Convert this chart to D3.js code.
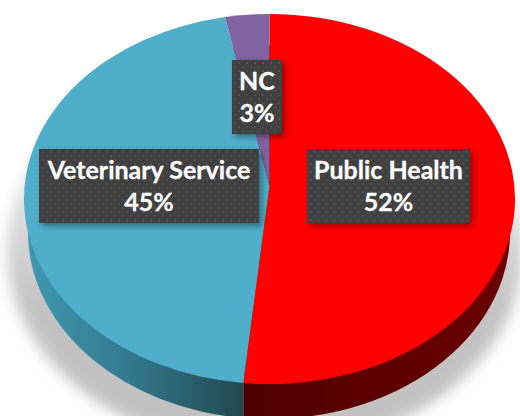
<!DOCTYPE html>
<html>
<head>
<meta charset="utf-8">
<script src="https://d3js.org/d3.v7.min.js"></script>
<style>
  html, body { margin: 0; padding: 0; background: #fff; }
  svg { display: block; }
</style>
</head>
<body>
<div id="chart"></div>
<script>
// Data
var categories = ["Public Health", "NC", "Veterinary Service"];
var sliceValues = [51.7, 45.4, 2.9]; // clockwise from the top: red, blue, purple
var labelValues = [52, 3, 45];
var topColors = ["#ff0000", "#4fafca", "#8064a2"];

// Label box centres, same order as categories
var labelX = [388.5, 257, 149];
var labelY = [186, 97, 186];
var labelW = [163, 50, 220];

var svgWidth = 520;
var svgHeight = 416;

var svg = d3.select("#chart")
    .append("svg")
    .attr("width", svgWidth)
    .attr("height", svgHeight);

var defs = svg.append("defs");

// Step 1: scales for the top face and the (slightly narrower) bottom rim
var xTop = d3.scaleLinear().domain([-1, 1]).range([24, 515]);
var yTop = d3.scaleLinear().domain([-1, 1]).range([14, 384]);
var xBottom = d3.scaleLinear().domain([-1, 1]).range([28, 510]);
var yBottom = d3.scaleLinear().domain([-1, 1]).range([45, 419]);
var apex = { x: xTop(0), y: 186 };

var pie = d3.pie().sort(null);
var slices = pie(sliceValues);

function wedge(d, xs, ys, cx, cy) {
    var rx = (xs(1) - xs(-1)) / 2;
    var ry = (ys(1) - ys(-1)) / 2;
    var x0 = xs(Math.sin(d.startAngle)), y0 = ys(-Math.cos(d.startAngle));
    var x1 = xs(Math.sin(d.endAngle)), y1 = ys(-Math.cos(d.endAngle));
    var large = d.endAngle - d.startAngle > Math.PI ? 1 : 0;
    return `M${cx},${cy}L${x0},${y0}A${rx},${ry} 0 ${large} 1 ${x1},${y1}Z`;
}

// Step 2: soft shadow under the pie
var blur = defs.append("filter")
    .attr("id", "soft")
    .attr("x", "-20%").attr("y", "-20%")
    .attr("width", "140%").attr("height", "140%");
blur.append("feGaussianBlur").attr("stdDeviation", 7);

var shadowFade = defs.append("linearGradient")
    .attr("id", "shadowFade")
    .attr("gradientUnits", "userSpaceOnUse")
    .attr("x1", 0).attr("x2", 0).attr("y1", 130).attr("y2", 310);
shadowFade.append("stop").attr("offset", "0%").attr("stop-color", "#f2f2f2");
shadowFade.append("stop").attr("offset", "100%").attr("stop-color", "#c2c2c2");

svg.append("ellipse")
    .attr("cx", 265)
    .attr("cy", 250)
    .attr("rx", 258)
    .attr("ry", 200)
    .attr("fill", "url(#shadowFade)")
    .attr("filter", "url(#soft)");

// Step 3: side walls
var blueSide = defs.append("linearGradient")
    .attr("id", "blueSide")
    .attr("gradientUnits", "userSpaceOnUse")
    .attr("x1", 30).attr("x2", 243).attr("y1", 0).attr("y2", 0);
blueSide.append("stop").attr("offset", "0%").attr("stop-color", "#4097b0");
blueSide.append("stop").attr("offset", "45%").attr("stop-color", "#347a90");
blueSide.append("stop").attr("offset", "100%").attr("stop-color", "#22484f");

var redSide = defs.append("linearGradient")
    .attr("id", "redSide")
    .attr("gradientUnits", "userSpaceOnUse")
    .attr("x1", 243).attr("x2", 510).attr("y1", 0).attr("y2", 0);
redSide.append("stop").attr("offset", "0%").attr("stop-color", "#4c0000");
redSide.append("stop").attr("offset", "100%").attr("stop-color", "#6c0000");

var sideFills = ["url(#redSide)", "url(#blueSide)", "#5c4a78"];

svg.append("g")
    .selectAll("path")
    .data(slices)
    .enter()
    .append("path")
    .attr("d", d => wedge(d, xBottom, yBottom, xBottom(Math.sin(slices[0].endAngle)), 232))
    .attr("fill", (d, i) => sideFills[i]);

// Step 4: top face
svg.append("g")
    .selectAll("path")
    .data(slices)
    .enter()
    .append("path")
    .attr("d", d => wedge(d, xTop, yTop, apex.x, apex.y))
    .attr("fill", (d, i) => topColors[i]);

// Step 5: labels
var dots = defs.append("pattern")
    .attr("id", "dots")
    .attr("patternUnits", "userSpaceOnUse")
    .attr("width", 8)
    .attr("height", 8);
dots.append("rect").attr("width", 8).attr("height", 8).attr("fill", "#404040");
dots.append("circle").attr("cx", 2).attr("cy", 2).attr("r", 1).attr("fill", "#545454");
dots.append("circle").attr("cx", 6).attr("cy", 6).attr("r", 1).attr("fill", "#545454");

var boxShadow = defs.append("filter")
    .attr("id", "boxShadow")
    .attr("x", "-20%").attr("y", "-20%")
    .attr("width", "140%").attr("height", "140%");
boxShadow.append("feDropShadow")
    .attr("dx", 3).attr("dy", 3)
    .attr("stdDeviation", 3)
    .attr("flood-color", "#000")
    .attr("flood-opacity", 0.4);

var labels = svg.append("g")
    .selectAll("g")
    .data(categories)
    .enter()
    .append("g")
    .attr("transform", (d, i) => `translate(${labelX[i]}, ${labelY[i]})`);

labels.append("rect")
    .attr("x", (d, i) => -labelW[i] / 2)
    .attr("y", -37)
    .attr("width", (d, i) => labelW[i])
    .attr("height", 74)
    .attr("fill", "url(#dots)")
    .attr("filter", "url(#boxShadow)");

labels.append("text")
    .attr("y", -7)
    .attr("text-anchor", "middle")
    .attr("font-family", "Lato")
    .attr("font-weight", 700)
    .attr("font-size", 25)
    .attr("fill", "#fff")
    .attr("stroke", "#fff")
    .attr("stroke-width", 0.3)
    .text(d => d);

labels.append("text")
    .attr("y", 25)
    .attr("text-anchor", "middle")
    .attr("font-family", "Lato")
    .attr("font-weight", 700)
    .attr("font-size", 25)
    .attr("fill", "#fff")
    .attr("stroke", "#fff")
    .attr("stroke-width", 0.3)
    .text((d, i) => labelValues[i] + "%");
</script>
</body>
</html>
